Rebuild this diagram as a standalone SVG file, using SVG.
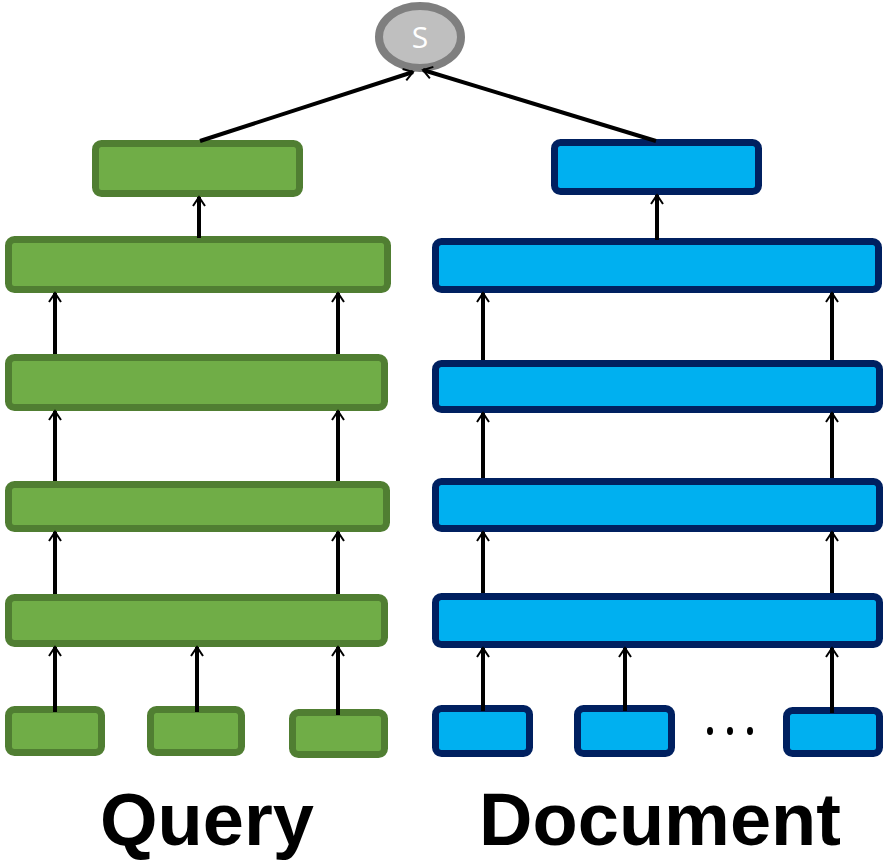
<svg xmlns="http://www.w3.org/2000/svg" width="884" height="863" viewBox="0 0 884 863">
<defs>
<marker id="ah" markerUnits="userSpaceOnUse" viewBox="-10 -8 12 16" refX="0" refY="0" markerWidth="12" markerHeight="16" orient="auto" overflow="visible">
<path d="M-9,-6 L0,0 L-9,6" fill="none" stroke="#000" stroke-width="2"/>
</marker>
</defs>
<style>
.g{fill:#70ad47;stroke:#507e32;stroke-width:7}
.b{fill:#00b0f0;stroke:#002060;stroke-width:7}
.c line{stroke:#000;stroke-width:4;marker-end:url(#ah)}
.t{font-family:"Liberation Sans",Arial,sans-serif;font-weight:bold;font-size:74px;fill:#000;text-anchor:middle}
</style>
<rect width="884" height="863" fill="#fff"/>
<g id="score">
<ellipse cx="420" cy="37" rx="41" ry="31" fill="#bfbfbf" stroke="#7f7f7f" stroke-width="8"/>
<text x="420" y="48" font-family="Open Sans,Liberation Sans,sans-serif" font-size="30" fill="#fff" text-anchor="middle">S</text>
</g>
<g id="query">
<rect id="q-top" class="g" x="95.5" y="143.5" width="204" height="50" rx="6"/>
<rect id="q-l1" class="g" x="8.5" y="239.5" width="379" height="50" rx="6"/>
<rect id="q-l2" class="g" x="8.5" y="357.5" width="376" height="50" rx="6"/>
<rect id="q-l3" class="g" x="8.5" y="484.5" width="378" height="44" rx="6"/>
<rect id="q-l4" class="g" x="8.5" y="597.5" width="376" height="46" rx="6"/>
<rect id="q-t1" class="g" x="8.5" y="709.5" width="93" height="43" rx="6"/>
<rect id="q-t2" class="g" x="150.5" y="709.5" width="91" height="43" rx="6"/>
<rect id="q-t3" class="g" x="292.5" y="712.5" width="92" height="42" rx="6"/>
</g>
<g id="document">
<rect id="d-top" class="b" x="554.5" y="142.5" width="204" height="49" rx="6"/>
<rect id="d-l1" class="b" x="435.5" y="241.5" width="443" height="48" rx="6"/>
<rect id="d-l2" class="b" x="435.5" y="363.5" width="444" height="46" rx="6"/>
<rect id="d-l3" class="b" x="435.5" y="481.5" width="444" height="47" rx="6"/>
<rect id="d-l4" class="b" x="435.5" y="596.5" width="444" height="48" rx="6"/>
<rect id="d-t1" class="b" x="435.5" y="708.5" width="94" height="45" rx="6"/>
<rect id="d-t2" class="b" x="577.5" y="708.5" width="94" height="45" rx="6"/>
<rect id="d-t3" class="b" x="786.5" y="710.5" width="93" height="43" rx="6"/>
<g id="dots" fill="#000">
<ellipse cx="710" cy="731" rx="3" ry="4"/>
<ellipse cx="730" cy="731" rx="3" ry="4"/>
<ellipse cx="750" cy="731" rx="3" ry="4"/>
</g>
</g>
<g id="connectors" class="c">
<line x1="200" y1="141" x2="413" y2="72"/>
<line x1="656" y1="141" x2="423" y2="70"/>
<line x1="199" y1="238" x2="199" y2="197"/>
<line x1="55" y1="354" x2="55" y2="293"/>
<line x1="338" y1="354" x2="338" y2="293"/>
<line x1="55" y1="481" x2="55" y2="411"/>
<line x1="338" y1="481" x2="338" y2="411"/>
<line x1="55" y1="594" x2="55" y2="532"/>
<line x1="338" y1="594" x2="338" y2="532"/>
<line x1="55" y1="712" x2="55" y2="647"/>
<line x1="197" y1="712" x2="197" y2="647"/>
<line x1="338" y1="715" x2="338" y2="647"/>
<line x1="657" y1="240" x2="657" y2="195"/>
<line x1="483" y1="360" x2="483" y2="293"/>
<line x1="832" y1="360" x2="832" y2="293"/>
<line x1="483" y1="478" x2="483" y2="413"/>
<line x1="832" y1="478" x2="832" y2="413"/>
<line x1="483" y1="593" x2="483" y2="532"/>
<line x1="832" y1="593" x2="832" y2="532"/>
<line x1="483" y1="711" x2="483" y2="648"/>
<line x1="625" y1="711" x2="625" y2="648"/>
<line x1="832" y1="713" x2="832" y2="648"/>
</g>
<g id="labels">
<text class="t" x="207" y="845">Query</text>
<text class="t" x="660" y="845">Document</text>
</g>
</svg>
